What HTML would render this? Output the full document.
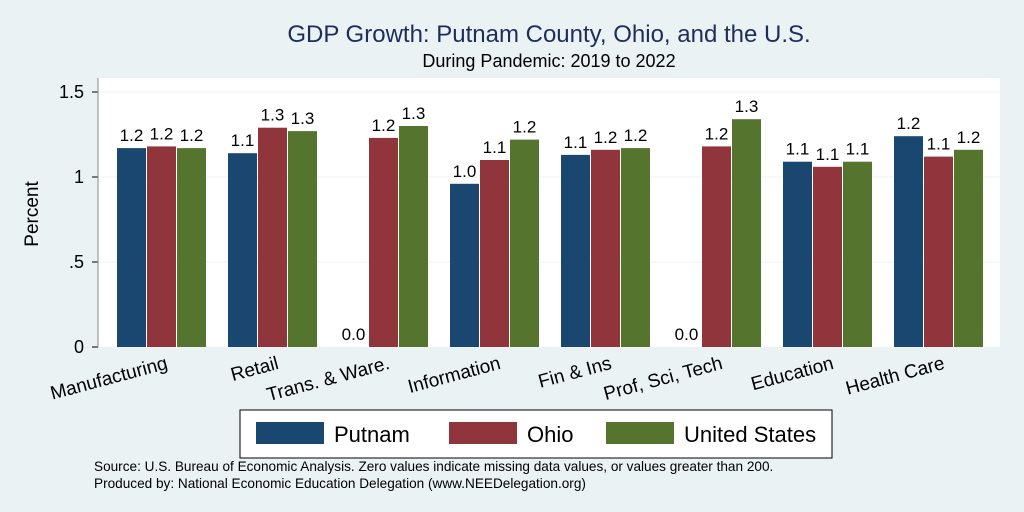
<!DOCTYPE html>
<html><head><meta charset="utf-8"><style>
body{margin:0;background:#eaf2f3;font-family:"Liberation Sans",Arial,sans-serif;}
svg{display:block}
</style></head><body>
<svg id="chart" width="1024" height="512" xmlns="http://www.w3.org/2000/svg">
<rect x="0" y="0" width="1024" height="512" fill="#eaf2f3"/>
<text x="549" y="42" font-size="24" fill="#1e2d5a" text-anchor="middle">GDP Growth: Putnam County, Ohio, and the U.S.</text>
<text x="549" y="67" font-size="18" fill="#000" text-anchor="middle">During Pandemic: 2019 to 2022</text>
<rect x="98" y="78" width="902" height="269" fill="#fff"/>
<g id="grid"></g><g id="bars"></g><g id="labels"></g><g id="axes"></g>
<text transform="translate(38,214) rotate(-90)" font-size="19" text-anchor="middle">Percent</text>
<rect x="240" y="410" width="592" height="48" fill="#fff" stroke="#000" stroke-width="1"/>
<g><rect x="256" y="422" width="68" height="22" fill="#1a476f"/><text x="334" y="442" font-size="22">Putnam</text></g>
<g><rect x="449" y="422" width="68" height="22" fill="#90353b"/><text x="527" y="442" font-size="22">Ohio</text></g>
<g><rect x="606" y="422" width="68" height="22" fill="#55752f"/><text x="684" y="442" font-size="22">United States</text></g>
<text x="94" y="471" font-size="13.6">Source: U.S. Bureau of Economic Analysis. Zero values indicate missing data values, or values greater than 200.</text>
<text x="94" y="488" font-size="13.6">Produced by: National Economic Education Delegation (www.NEEDelegation.org)</text>
</svg>
<script>
const categories=["Manufacturing","Retail","Trans. & Ware.","Information","Fin & Ins","Prof, Sci, Tech","Education","Health Care"];
const putnam=[1.17,1.14,0,0.96,1.13,0,1.09,1.24];
const ohio=[1.18,1.29,1.23,1.10,1.16,1.18,1.06,1.12];
const us=[1.17,1.27,1.30,1.22,1.17,1.34,1.09,1.16];
const yTicks=[0,0.5,1,1.5];
const yTickLabels=["0",".5","1","1.5"];
const NS="http://www.w3.org/2000/svg";
const y=v=>347-v*170;
const gx=i=>117+i*111;
function mk(t,a,p){const e=document.createElementNS(NS,t);for(const k in a)e.setAttribute(k,a[k]);p.appendChild(e);return e;}
const grid=document.getElementById('grid'),bars=document.getElementById('bars'),labels=document.getElementById('labels'),axes=document.getElementById('axes');
yTicks.forEach((t,i)=>{
 if(t>0){const l=mk('line',{x1:98,x2:1000,y1:y(t),y2:y(t),stroke:'#eef3f3','stroke-width':1},grid);
 
 }
 const tk=mk('line',{x1:92,x2:98,y1:y(t),y2:y(t),stroke:'#000'},axes);
 
 
 const tx=mk('text',{x:84,y:y(t)+6,'font-size':18,'text-anchor':'end'},axes);tx.textContent=yTickLabels[i];
 
 
});
const ax=mk('line',{x1:98,x2:98,y1:78,y2:347,stroke:'#888'},axes);


const series=[[putnam,'#1a476f','putnam'],[ohio,'#90353b','ohio'],[us,'#55752f','us']];
categories.forEach((c,i)=>{
 series.forEach(([arr,col,nm],j)=>{
  const v=arr[i],x=gx(i)+j*30;
  const r=mk('rect',{x:x,y:y(v),width:29,height:v*170,fill:col},bars);
  
  
  const t=mk('text',{x:x+14.5,y:y(v)-7,'font-size':17,'text-anchor':'middle'},labels);t.textContent=v.toFixed(1);
  
  
 });
 const cx=gx(i)+48;
 const t=mk('text',{x:cx,y:355,'font-size':19,'text-anchor':'end',transform:`rotate(-15 ${cx} 355)`},axes);
 t.setAttribute('dy','14');t.textContent=c;
 
 
});
</script>
</body></html>
